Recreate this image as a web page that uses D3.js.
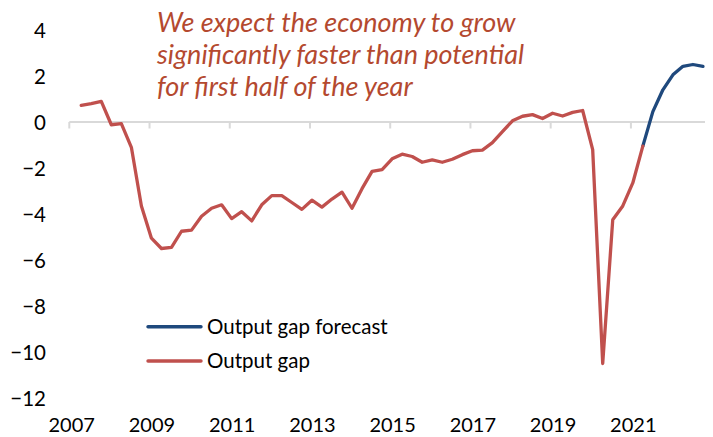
<!DOCTYPE html>
<html>
<head>
<meta charset="utf-8">
<script src="https://cdn.jsdelivr.net/npm/d3@7"></script>
<style>
  html, body { margin: 0; padding: 0; background: #ffffff; }
  svg { display: block; }
  text { font-family: Lato, "Open Sans", sans-serif; fill: #000; }
</style>
</head>
<body>
<svg id="chart" width="713" height="437"></svg>
<script>
// Quarterly output gap, % of potential GDP (2007Q2 .. 2021Q2 actual)
const gapQuarters = [
  "2007Q2","2007Q3","2007Q4","2008Q1","2008Q2","2008Q3","2008Q4",
  "2009Q1","2009Q2","2009Q3","2009Q4","2010Q1","2010Q2","2010Q3","2010Q4",
  "2011Q1","2011Q2","2011Q3","2011Q4","2012Q1","2012Q2","2012Q3","2012Q4",
  "2013Q1","2013Q2","2013Q3","2013Q4","2014Q1","2014Q2","2014Q3","2014Q4",
  "2015Q1","2015Q2","2015Q3","2015Q4","2016Q1","2016Q2","2016Q3","2016Q4",
  "2017Q1","2017Q2","2017Q3","2017Q4","2018Q1","2018Q2","2018Q3","2018Q4",
  "2019Q1","2019Q2","2019Q3","2019Q4","2020Q1","2020Q2","2020Q3","2020Q4",
  "2021Q1","2021Q2"
];
const gapValues = [
  0.72, 0.80, 0.90, -0.12, -0.07, -1.10, -3.65,
  -5.05, -5.50, -5.45, -4.75, -4.70, -4.10, -3.75, -3.60,
  -4.20, -3.90, -4.30, -3.60, -3.20, -3.20, -3.50, -3.80,
  -3.40, -3.70, -3.35, -3.05, -3.75, -2.90, -2.15, -2.07,
  -1.60, -1.40, -1.50, -1.75, -1.65, -1.75, -1.62, -1.42,
  -1.25, -1.22, -0.90, -0.42, 0.05, 0.25, 0.32, 0.15,
  0.38, 0.26, 0.42, 0.50, -1.20, -10.50, -4.25, -3.65,
  -2.65, -1.05
];

// Forecast path, starting from the last actual quarter
const forecastQuarters = ["2021Q2","2021Q3","2021Q4","2022Q1","2022Q2","2022Q3","2022Q4"];
const forecastValues = [-1.05, 0.45, 1.40, 2.05, 2.42, 2.50, 2.42];

const yTicks = [4, 2, 0, -2, -4, -6, -8, -10, -12];
const xTickYears = [2007, 2009, 2011, 2013, 2015, 2017, 2019, 2021];

const seriesNames = ["Output gap forecast", "Output gap"];
const seriesColors = ["#1F497D", "#C0504D"];

const noteLines = [
  "We expect the economy to grow",
  "significantly faster than potential",
  "for first half of the year"
];

// quarter index counted from 2007Q1
const qIndex = s => (+s.slice(0, 4) - 2007) * 4 + (+s.slice(5) - 1);

const svg = d3.select("#chart");

const x = d3.scaleLinear().domain([0, 63]).range([71.2, 703]);
const y = d3.scaleLinear().domain([-12, 4]).range([398, 30]);

// y axis labels (no axis line)
const yAxis = d3.axisLeft(y).tickValues(yTicks).tickSize(0).tickPadding(0);
const gy = svg.append("g").attr("transform", "translate(46,0)").call(yAxis);
gy.select(".domain").remove();
gy.selectAll("text")
  .style("font-family", "Lato, sans-serif")
  .style("font-size", "20.5px")
  .attr("fill", "#000")
  .attr("dy", "0.36em");

// horizontal category axis at zero
svg.append("line")
  .attr("x1", x(-0.19)).attr("x2", x(63.2))
  .attr("y1", y(0)).attr("y2", y(0))
  .attr("stroke", "#D9D9D9").attr("stroke-width", 2);

const tickIdx = xTickYears.map(yr => (yr - 2007) * 4);
svg.append("g").selectAll("line.tick")
  .data(tickIdx).join("line")
  .attr("x1", d => x(d) - 1.9).attr("x2", d => x(d) - 1.9)
  .attr("y1", y(0)).attr("y2", y(0) + 6.5)
  .attr("stroke", "#D9D9D9").attr("stroke-width", 2);

// year labels at the low position
const xAxis = d3.axisBottom(x).tickValues(tickIdx)
  .tickFormat(d => String(2007 + d / 4)).tickSize(0).tickPadding(0);
const gx = svg.append("g").attr("transform", "translate(0,418)").call(xAxis);
gx.select(".domain").remove();
gx.selectAll("text")
  .style("font-family", "Lato, sans-serif")
  .style("font-size", "20px")
  .attr("fill", "#000")
  .attr("dy", "0.71em");

// series lines
const line = d3.line()
  .x(d => x(d.i))
  .y(d => y(d.v));

const forecastData = forecastQuarters.map((q, j) => ({ i: qIndex(q), v: forecastValues[j] }));
const gapData = gapQuarters.map((q, j) => ({ i: qIndex(q), v: gapValues[j] }));

svg.append("path")
  .datum(forecastData)
  .attr("d", line)
  .attr("fill", "none")
  .attr("stroke", seriesColors[0])
  .attr("stroke-width", 3.3)
  .attr("stroke-linejoin", "round")
  .attr("stroke-linecap", "round");

svg.append("path")
  .datum(gapData)
  .attr("d", line)
  .attr("fill", "none")
  .attr("stroke", seriesColors[1])
  .attr("stroke-width", 3.3)
  .attr("stroke-linejoin", "round")
  .attr("stroke-linecap", "round");

// legend
const legend = svg.append("g");
const legendRows = legend.selectAll("g").data(seriesNames).join("g")
  .attr("transform", (d, i) => `translate(148,${326.7 + i * 34.3})`);
legendRows.append("line")
  .attr("x1", 0).attr("x2", 53).attr("y1", 0).attr("y2", 0)
  .attr("stroke", (d, i) => seriesColors[i])
  .attr("stroke-width", 3.4)
  .attr("stroke-linecap", "round");
legendRows.append("text")
  .attr("x", 59).attr("y", 0).attr("dy", "0.36em")
  .style("font-size", "20.5px")
  .text(d => d);

// annotation
svg.append("g").selectAll("text").data(noteLines).join("text")
  .attr("x", 157)
  .attr("y", (d, i) => 32 + i * 32)
  .style("font-size", "27px")
  .style("font-style", "italic")
  .style("fill", "#B4492F")
  .text(d => d);
</script>
</body>
</html>
